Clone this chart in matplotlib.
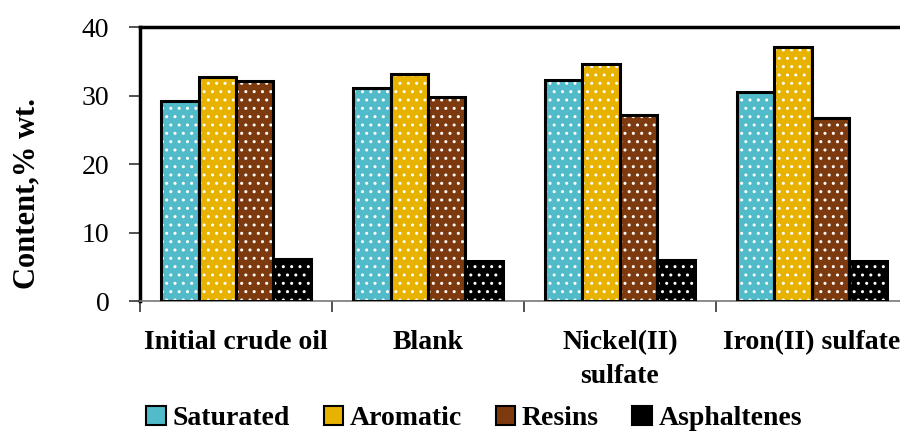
import numpy as np
import matplotlib
matplotlib.use('Agg')
import matplotlib.pyplot as plt
from matplotlib.patches import Patch

# === Data ===
categories = ['Initial crude oil', 'Blank', 'Nickel(II)\nsulfate', 'Iron(II) sulfate']
series = ['Saturated', 'Aromatic', 'Resins', 'Asphaltenes']
saturated = [29.2, 31.1, 32.3, 30.5]
aromatic = [32.7, 33.1, 34.6, 37.1]
resins = [32.2, 29.8, 27.2, 26.7]
asphaltenes = [6.1, 5.9, 6.0, 5.8]
colors = ['#51BBCA', '#E8B200', '#7E3A0F', '#000000']

plt.rcParams['font.family'] = ['Liberation Serif', 'DejaVu Serif']
plt.rcParams['hatch.color'] = 'white'
plt.rcParams['hatch.linewidth'] = 1.0

fig = plt.figure(figsize=(9, 4.32), dpi=100)
ax = fig.add_axes([0.1556, 0.303, 0.853, 0.634])

x = np.arange(len(categories))
w = 0.195
values = [saturated, aromatic, resins, asphaltenes]
for j, (vals, c) in enumerate(zip(values, colors)):
    pos = x + (j - 1.5) * w
    # fill with white dots, then black outline on top
    ax.bar(pos, vals, w, color=c, hatch='..', edgecolor='white', linewidth=0, zorder=2)
    ax.bar(pos, vals, w, fill=False, edgecolor='black', linewidth=2.2, zorder=3)

ax.set_xlim(-0.5, 3.5)
ax.set_ylim(0, 40)
ax.set_yticks([0, 10, 20, 30, 40])
ax.tick_params(axis='y', labelsize=20, length=8, width=1.2, pad=14, color='#333333')

# boundary ticks as major, labels as minor
ax.set_xticks([-0.5, 0.5, 1.5, 2.5, 3.5])
ax.set_xticklabels([])
ax.tick_params(axis='x', which='major', length=8, width=1.2, color='#333333')
ax.set_xticks(x, minor=True)
ax.set_xticklabels(categories, minor=True, fontsize=20, fontweight='bold', linespacing=1.45)
ax.tick_params(axis='x', which='minor', length=0, pad=21)

ax.set_ylabel('Content,% wt.', fontsize=22, fontweight='bold')
ax.yaxis.set_label_coords(-0.128, 0.394)

for s in ['left', 'top']:
    ax.spines[s].set_linewidth(2.5)
ax.spines['right'].set_visible(False)
ax.spines['bottom'].set_color('#777777')
ax.spines['bottom'].set_linewidth(1.2)

handles = [Patch(facecolor=c, edgecolor='black', linewidth=1.5) for c in colors]
fig.legend(handles, series, loc='center', bbox_to_anchor=(0.527, 0.031), ncol=4, frameon=False,
           prop={'weight': 'bold', 'size': 20}, handlelength=0.7, handleheight=0.7,
           handletextpad=0.25, columnspacing=1.2, borderpad=0)

fig.savefig('out.png', dpi=100)
